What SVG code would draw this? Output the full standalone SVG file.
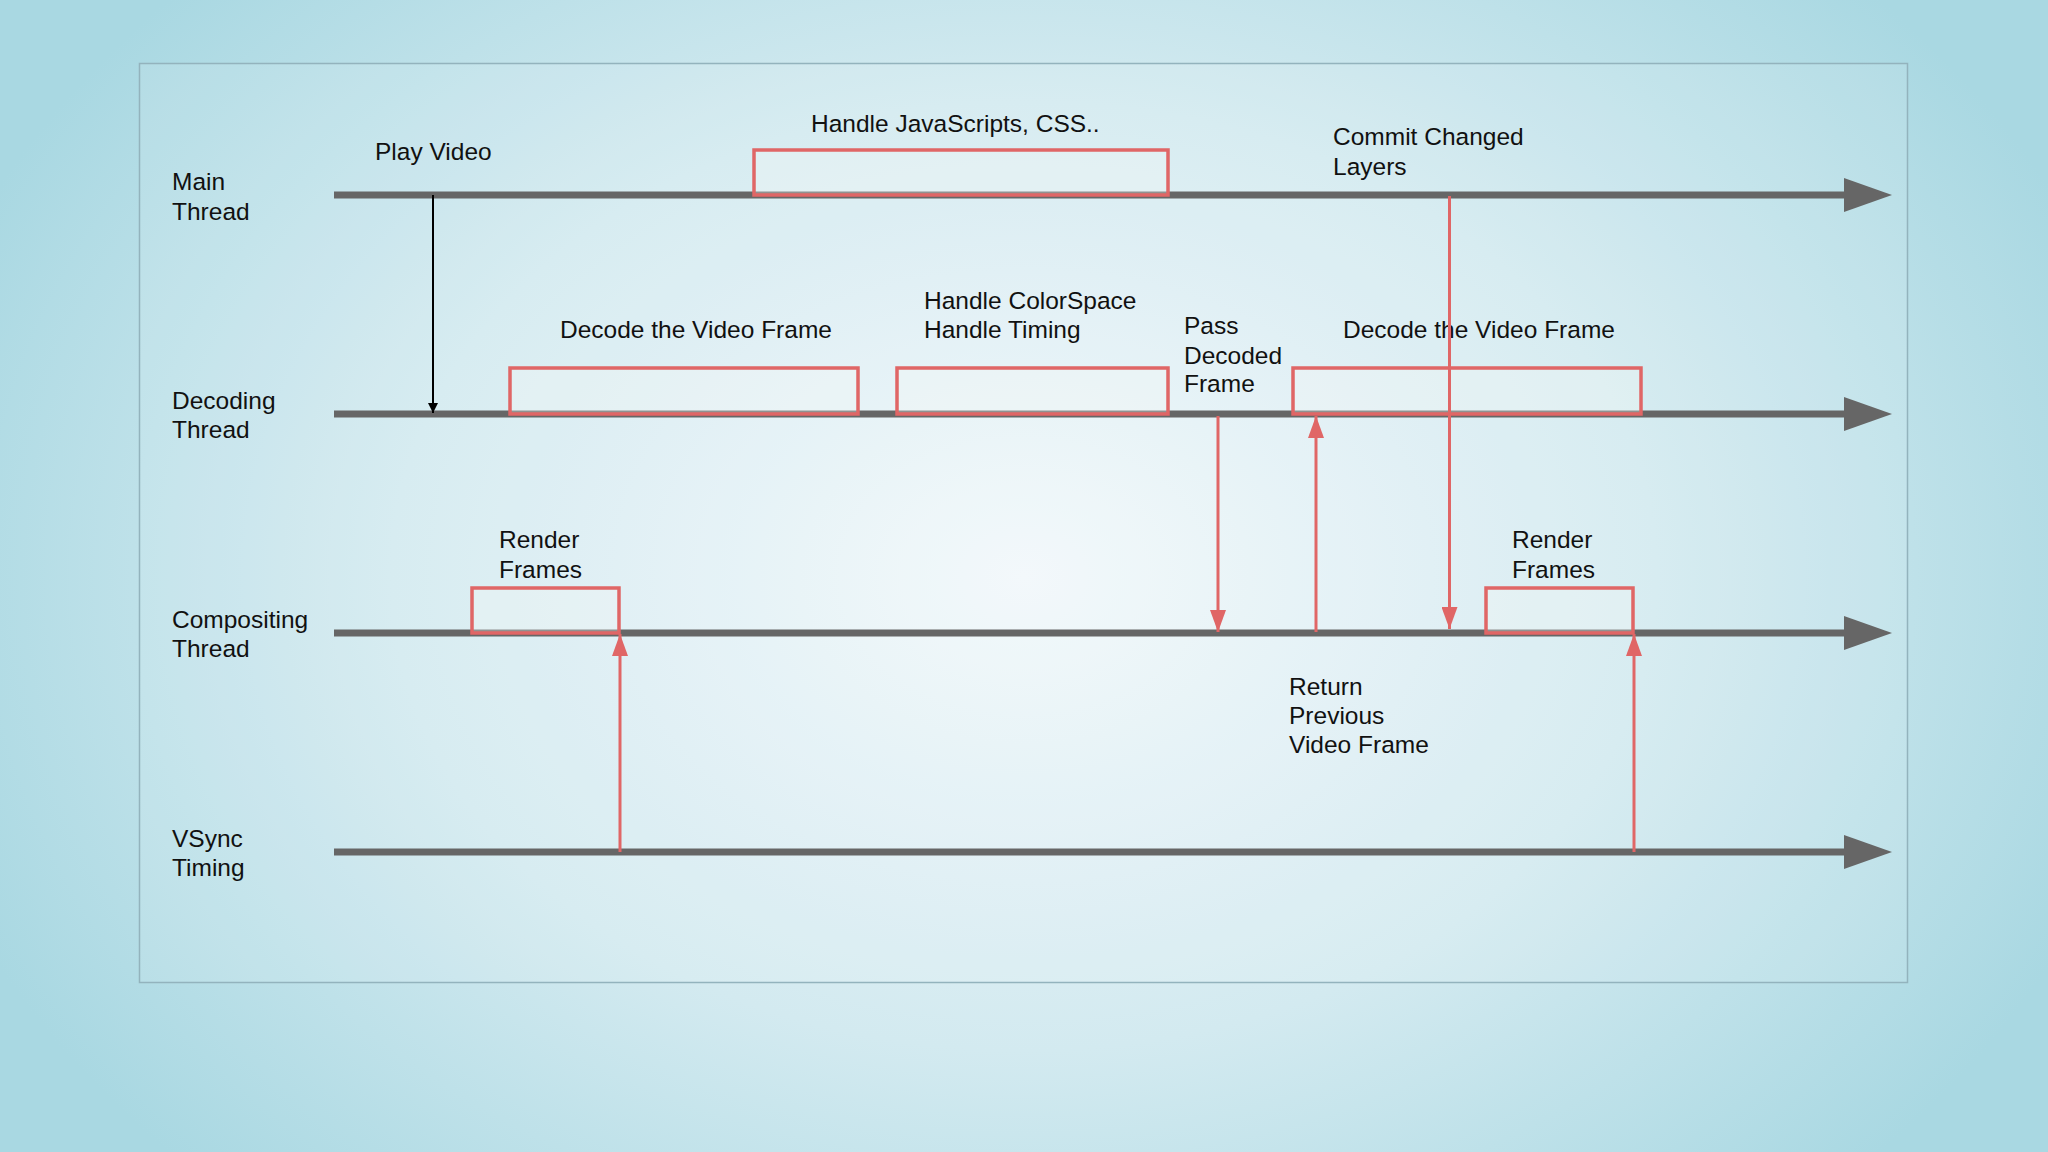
<svg xmlns="http://www.w3.org/2000/svg" width="2048" height="1152" viewBox="0 0 2048 1152">
<defs>
<radialGradient id="bg" cx="1024" cy="576" r="1150" gradientUnits="userSpaceOnUse" gradientTransform="translate(1024 576) scale(1 0.75) translate(-1024 -576)">
<stop offset="0" stop-color="#f2f8fb"/>
<stop offset="0.55" stop-color="#d3eaf0"/>
<stop offset="1" stop-color="#a9d8e2"/>
</radialGradient>
<marker id="blk" viewBox="0 0 10 12" refX="10" refY="6" markerWidth="10" markerHeight="12" markerUnits="userSpaceOnUse" orient="auto">
<path d="M0,1 L10,6 L0,11 Z" fill="#000"/>
</marker>
<marker id="red" viewBox="0 0 22 16" refX="22" refY="8" markerWidth="22" markerHeight="16" markerUnits="userSpaceOnUse" orient="auto">
<path d="M0,0 L22,8 L0,16 Z" fill="#e06666"/>
</marker>
</defs>
<style>
text{font-family:"Liberation Sans",Arial,sans-serif;font-size:24.5px;fill:#111}
.tl{stroke:#666;stroke-width:7;fill:none}
.th{fill:#666}
.box{fill:#f4f8f4;fill-opacity:0.3;stroke:#e06666;stroke-width:3.5}
.rc{stroke:#e06666;stroke-width:3;fill:none}
</style>
<rect x="0" y="0" width="2048" height="1152" fill="url(#bg)"/>
<rect x="139.5" y="63.5" width="1768" height="919" fill="#ffffff" fill-opacity="0.1" stroke="#93b3bd" stroke-width="1.5"/>

<g id="timelines">
<g id="main-thread">
<text x="172" y="190">Main</text>
<text x="172" y="220">Thread</text>
<line class="tl" x1="334" y1="195" x2="1848" y2="195"/>
<polygon class="th" points="1844,178 1892,195 1844,212"/>
</g>
<g id="decoding-thread">
<text x="172" y="409">Decoding</text>
<text x="172" y="438">Thread</text>
<line class="tl" x1="334" y1="414" x2="1848" y2="414"/>
<polygon class="th" points="1844,397 1892,414 1844,431"/>
</g>
<g id="compositing-thread">
<text x="172" y="628">Compositing</text>
<text x="172" y="657">Thread</text>
<line class="tl" x1="334" y1="633" x2="1848" y2="633"/>
<polygon class="th" points="1844,616 1892,633 1844,650"/>
</g>
<g id="vsync-timing">
<text x="172" y="847">VSync</text>
<text x="172" y="876">Timing</text>
<line class="tl" x1="334" y1="852" x2="1848" y2="852"/>
<polygon class="th" points="1844,835 1892,852 1844,869"/>
</g>
</g>

<g id="node-play-video">
<text x="375" y="160">Play Video</text>
</g>
<g id="node-handle-js">
<rect class="box" x="754" y="150" width="414" height="45"/>
<text x="811" y="132">Handle JavaScripts, CSS..</text>
</g>
<g id="node-commit-layers">
<text x="1333" y="145">Commit Changed</text>
<text x="1333" y="175">Layers</text>
</g>
<g id="node-decode-1">
<rect class="box" x="510" y="368" width="348" height="46"/>
<text x="560" y="338">Decode the Video Frame</text>
</g>
<g id="node-colorspace">
<rect class="box" x="897" y="368" width="271" height="46"/>
<text x="924" y="309">Handle ColorSpace</text>
<text x="924" y="338">Handle Timing</text>
</g>
<g id="node-pass-decoded">
<text x="1184" y="334">Pass</text>
<text x="1184" y="364">Decoded</text>
<text x="1184" y="392">Frame</text>
</g>
<g id="node-decode-2">
<rect class="box" x="1293" y="368" width="348" height="46"/>
<text x="1343" y="338">Decode the Video Frame</text>
</g>
<g id="node-render-1">
<rect class="box" x="472" y="588" width="147" height="45"/>
<text x="499" y="548">Render</text>
<text x="499" y="578">Frames</text>
</g>
<g id="node-render-2">
<rect class="box" x="1486" y="588" width="147" height="45"/>
<text x="1512" y="548">Render</text>
<text x="1512" y="578">Frames</text>
</g>
<g id="node-return-previous">
<text x="1289" y="695">Return</text>
<text x="1289" y="724">Previous</text>
<text x="1289" y="753">Video Frame</text>
</g>

<g id="connectors">
<line x1="433" y1="195" x2="433" y2="413" stroke="#000" stroke-width="2" marker-end="url(#blk)"/>
<line class="rc" x1="1218" y1="416" x2="1218" y2="632" marker-end="url(#red)"/>
<line class="rc" x1="1316" y1="632" x2="1316" y2="416" marker-end="url(#red)"/>
<line class="rc" x1="1449.5" y1="196" x2="1449.5" y2="629" marker-end="url(#red)"/>
<line class="rc" x1="620" y1="852" x2="620" y2="634" marker-end="url(#red)"/>
<line class="rc" x1="1634" y1="852" x2="1634" y2="634" marker-end="url(#red)"/>
</g>
</svg>
